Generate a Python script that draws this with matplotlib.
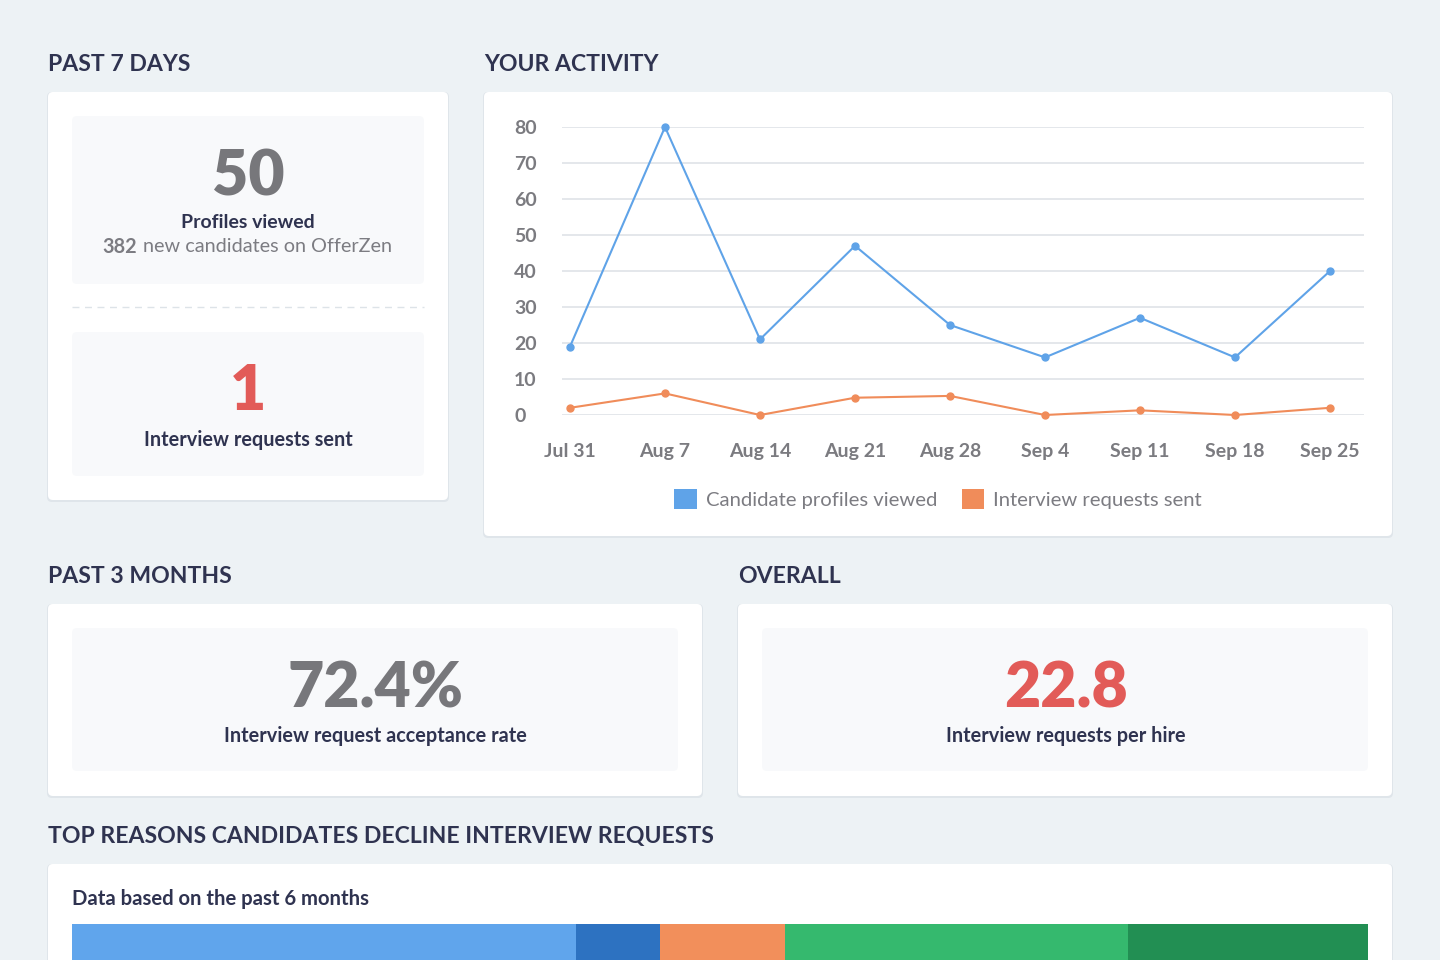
import matplotlib
matplotlib.use("Agg")
import matplotlib.pyplot as plt
from matplotlib.patches import FancyBboxPatch, Patch

plt.rcParams['font.family'] = ['Lato', 'DejaVu Sans']

# data
weeks = ["Jul 31", "Aug 7", "Aug 14", "Aug 21", "Aug 28", "Sep 4", "Sep 11", "Sep 18", "Sep 25"]
profiles_viewed = [19, 80, 21, 47, 25, 16, 27, 16, 40]
requests_sent = [2, 6, 0, 4.8, 5.3, 0, 1.3, 0, 2]
series_names = ["Candidate profiles viewed", "Interview requests sent"]
y_ticks = [0, 10, 20, 30, 40, 50, 60, 70, 80]

decline_shares = [38.9, 6.5, 9.6, 26.5, 18.5]
decline_colors = ["#60a5ec", "#2d72c1", "#f28f5b", "#35b96e", "#228f53"]

profiles_7d = "50"
requests_7d = "1"
new_candidates = "382"
acceptance_rate = "72.4%"
requests_per_hire = "22.8"

BG = "#edf2f5"
INNER = "#f8f9fb"
DARK = "#2f3350"
GREY_NUM = "#77777b"
RED = "#e25b58"
BLUE = "#5fa3e8"
ORANGE = "#f08c5a"
TICK = "#7b7b80"

fig = plt.figure(figsize=(14.4, 9.6), dpi=100, facecolor=BG)
bg = fig.add_axes([0, 0, 1, 1])
bg.set_xlim(0, 1440)
bg.set_ylim(960, 0)
bg.axis("off")
bg.set_facecolor(BG)


def card(x0, y0, x1, y1, color="white", r=5, shadow=True):
    if shadow:
        bg.add_patch(FancyBboxPatch((x0 - 1, y0), x1 - x0 + 2, y1 - y0 + 2,
                                    boxstyle=f"round,pad=0,rounding_size={r}",
                                    fc="#dfe5ea", ec="none"))
    bg.add_patch(FancyBboxPatch((x0, y0), x1 - x0, y1 - y0,
                                boxstyle=f"round,pad=0,rounding_size={r}",
                                fc=color, ec="none"))


def heading(x, y, s):
    bg.text(x, y, s, fontsize=16.6, fontweight="bold", color=DARK, va="baseline", ha="left")


def big(x, y, s, color):
    bg.text(x, y, s, fontsize=45, fontweight="heavy", color=color, ha="center", va="baseline")


def label(x, y, s, size=14.3):
    bg.text(x, y, s, fontsize=size, fontweight="bold", color=DARK, ha="center", va="center")


# section headings
heading(48, 71, "PAST 7 DAYS")
heading(484, 71, "YOUR ACTIVITY")
heading(48, 583, "PAST 3 MONTHS")
heading(738, 583, "OVERALL")
heading(48, 843, "TOP REASONS CANDIDATES DECLINE INTERVIEW REQUESTS")

# past 7 days card
card(48, 92, 448, 500)
card(72, 116, 424, 284, INNER, shadow=False)
card(72, 332, 424, 476, INNER, shadow=False)
bg.plot([72, 424], [307, 307], color="#dde3e8", lw=1, ls=(0, (5, 4)))
big(248, 195, profiles_7d, GREY_NUM)
label(248, 223, "Profiles viewed", 14)
bg.text(137, 247, new_candidates, fontsize=14.3, fontweight="bold", color="#7c7c82", ha="right", va="center")
bg.text(143, 247, "new candidates on OfferZen", fontsize=14.3, color="#7c7c82", ha="left", va="center")
big(248, 410, requests_7d, RED)
label(248, 440, "Interview requests sent")

# activity card
card(484, 92, 1392, 536)

# past 3 months / overall cards
card(48, 604, 702, 796)
card(72, 628, 678, 771, INNER, shadow=False)
big(375, 708, acceptance_rate, GREY_NUM)
label(375, 736, "Interview request acceptance rate")

card(738, 604, 1392, 796)
card(762, 628, 1368, 771, INNER, shadow=False)
big(1066, 708, requests_per_hire, RED)
label(1066, 736, "Interview requests per hire")

# decline reasons card
card(48, 864, 1392, 990)
bg.text(72, 899, "Data based on the past 6 months", fontsize=14.6, fontweight="bold", color=DARK, ha="left", va="center")

# line chart
W, H = 1440, 960
ax = fig.add_axes([562 / W, 1 - 415 / H, (1364 - 562) / W, (415 - 127) / H])
ax.set_facecolor("none")
xs = list(range(len(weeks)))
ax.plot(xs, profiles_viewed, color=BLUE, lw=1.5, marker="o", ms=5, clip_on=False, zorder=3)
ax.plot(xs, requests_sent, color=ORANGE, lw=1.5, marker="o", ms=5, clip_on=False, zorder=3)
ax.set_xlim(-8 / 95, 8 + 34 / 95)
ax.set_ylim(0, 80)
ax.set_yticks(y_ticks)
ax.set_xticks(xs)
ax.set_xticklabels(weeks)
ax.grid(axis="y", color="#dfe3e8", lw=1.2)
ax.set_axisbelow(True)
for s in ax.spines.values():
    s.set_visible(False)
ax.tick_params(axis="both", length=0, labelsize=14, labelcolor=TICK)
ax.tick_params(axis="y", pad=34.5)
ax.tick_params(axis="x", pad=20)
for lbl in ax.get_yticklabels():
    lbl.set_horizontalalignment("left")
    lbl.set_fontweight("bold")
for lbl in ax.get_xticklabels():
    lbl.set_fontweight("bold")

handles = [Patch(fc=BLUE, ec="none"), Patch(fc=ORANGE, ec="none")]
fig.legend(handles, series_names, loc="center", bbox_to_anchor=(938 / W, 1 - 499 / H),
           ncol=2, frameon=False, fontsize=14.6, labelcolor="#7c7c82",
           handlelength=1.1, handleheight=1.1, handletextpad=0.45, columnspacing=1.2)

# stacked decline bar
bx = fig.add_axes([72 / W, -20 / H, (1368 - 72) / W, (36 + 20) / H])
left = 0
for share, col in zip(decline_shares, decline_colors):
    bx.barh(0, share, left=left, height=1, color=col, edgecolor="none")
    left += share
bx.set_xlim(0, sum(decline_shares))
bx.set_ylim(-0.5, 0.5)
bx.axis("off")

fig.savefig("out.png", dpi=100, facecolor=BG)
